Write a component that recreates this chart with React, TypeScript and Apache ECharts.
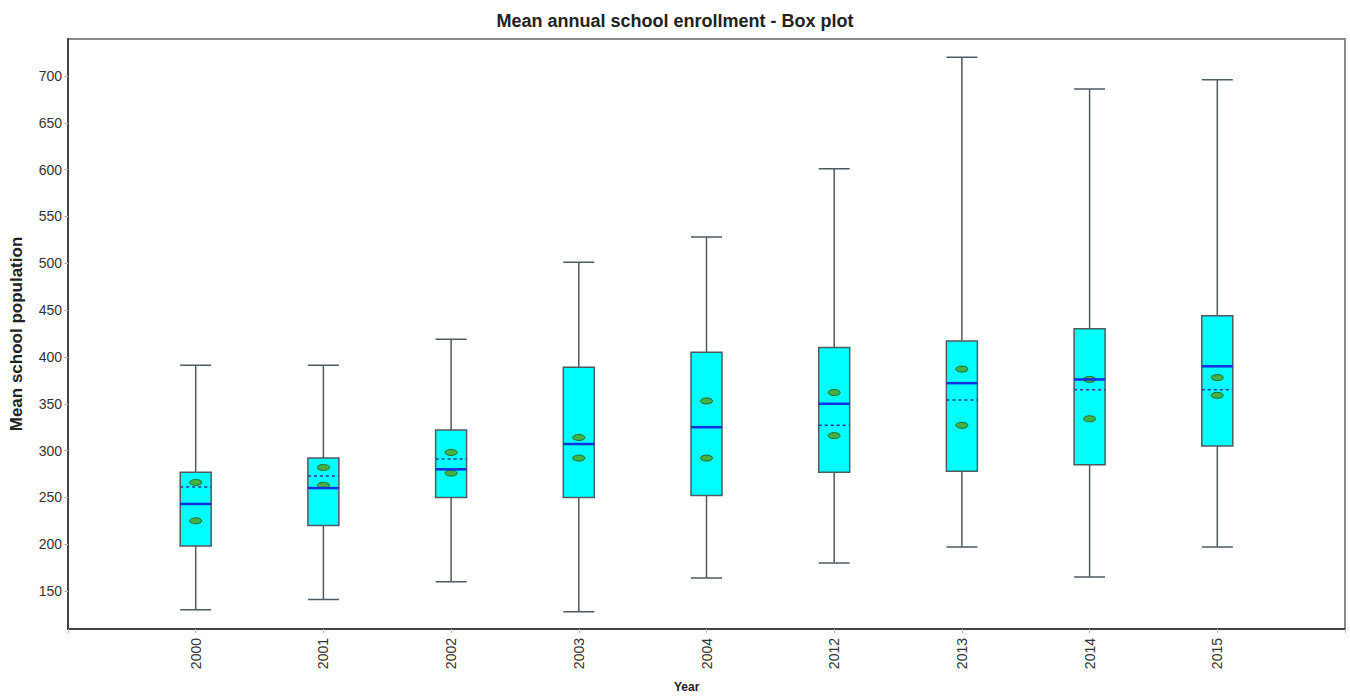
import React, { useEffect, useRef } from "react";
import * as echarts from "echarts";

const years = ["2000", "2001", "2002", "2003", "2004", "2012", "2013", "2014", "2015"];
// [min, Q1, median, Q3, max]
const boxes: number[][] = [
  [130, 198, 243, 277, 391],
  [141, 220, 260, 292, 391],
  [160, 250, 280, 322, 419],
  [128, 250, 307, 389, 501],
  [164, 252, 325, 405, 528],
  [180, 277, 350, 410, 601],
  [197, 278, 372, 417, 720],
  [165, 285, 376, 430, 686],
  [197, 305, 390, 444, 696],
];
const means = [261, 273, 291, 307, 325, 327, 354, 365, 365];
const upperMarks = [266, 282, 298, 314, 353, 362, 387, 376, 378];
const lowerMarks = [225, 263, 276, 292, 292, 316, 327, 334, 359];
const yTicks = [150, 200, 250, 300, 350, 400, 450, 500, 550, 600, 650, 700];

const FONT = "Liberation Sans, Arial, sans-serif";
const BOX_W = 31;

export default function App() {
  const ref = useRef<HTMLDivElement>(null);
  useEffect(() => {
    if (!ref.current) return;
    const chart = echarts.init(ref.current, null, { renderer: "svg" });
    const axisData = ["", ...years, ""];
    const boxData = boxes.map((b, i) => [i + 1, ...b]);
    const extraData = years.map((_, i) => [i + 1, boxes[i][2], means[i], upperMarks[i], lowerMarks[i]]);
    chart.setOption({
      animation: false,
      backgroundColor: "#ffffff",
      title: {
        text: "Mean annual school enrollment - Box plot",
        left: "center",
        top: 7,
        textStyle: { fontFamily: FONT, fontSize: 18, fontWeight: "bold", color: "#222" },
      },
      grid: {
        left: 68,
        right: 5,
        top: 39,
        bottom: 67,
        outerBoundsMode: "none",
        containLabel: false,
        show: true,
        borderColor: "#8a8a8a",
        borderWidth: 2,
        backgroundColor: "#ffffff",
      },
      xAxis: {
        type: "category",
        data: axisData,
        boundaryGap: false,
        axisLine: { lineStyle: { color: "#444", width: 2 } },
        axisTick: { show: true, length: 4, lineStyle: { color: "#bbb" }, interval: 0 },
        axisLabel: {
          rotate: 90,
          margin: 9,
          fontFamily: FONT,
          fontSize: 14,
          color: "#333",
          interval: 0,
        },
        splitLine: { show: false },
      },
      yAxis: {
        type: "value",
        min: 109.5,
        max: 739.5,
        name: "Mean school population",
        nameLocation: "middle",
        nameGap: 43,
        nameTextStyle: { fontFamily: FONT, fontSize: 17, fontWeight: "bold", color: "#222" },
        axisLine: { show: true, lineStyle: { color: "#444", width: 2 } },
        axisTick: { show: true, length: 4, lineStyle: { color: "#bbb" }, customValues: yTicks },
        axisLabel: { fontFamily: FONT, fontSize: 14, color: "#333", margin: 6, customValues: yTicks },
        splitLine: { show: false },
      },
      graphic: [
        {
          type: "text",
          left: 674,
          top: 681,
          style: { text: "Year", font: "bold 12px " + FONT, fill: "#222" },
        },
      ],
      series: [
        {
          type: "boxplot",
          data: boxData,
          encode: { x: 0, y: [1, 2, 3, 4, 5] },
          boxWidth: [BOX_W, BOX_W],
          itemStyle: { color: "#00ffff", borderColor: "#4f5b60", borderWidth: 1.5 },
          emphasis: { disabled: true },
        },
        {
          type: "custom",
          data: extraData,
          encode: { x: 0, y: [1, 2, 3, 4] },
          z: 10,
          renderItem: (params: any, api: any) => {
            const x = api.value(0);
            const pMed = api.coord([x, api.value(1)]);
            const pMean = api.coord([x, api.value(2)]);
            const pU = api.coord([x, api.value(3)]);
            const pL = api.coord([x, api.value(4)]);
            const h = BOX_W / 2;
            const ell = (p: number[]) => ({
              type: "ellipse",
              shape: { cx: p[0], cy: p[1], rx: 6, ry: 3 },
              style: { fill: "#45b045", stroke: "#1d6b2a", lineWidth: 1 },
            });
            return {
              type: "group",
              children: [
                {
                  type: "line",
                  shape: { x1: pMean[0] - h, y1: pMean[1], x2: pMean[0] + h, y2: pMean[1] },
                  style: { stroke: "#1f3f9a", lineWidth: 1.5, lineDash: [3, 3] },
                },
                ell(pU),
                ell(pL),
                {
                  type: "line",
                  shape: { x1: pMed[0] - h, y1: pMed[1], x2: pMed[0] + h, y2: pMed[1] },
                  style: { stroke: "#1530e0", lineWidth: 2.5 },
                },
              ],
            };
          },
        },
      ],
    });
    return () => chart.dispose();
  }, []);
  return <div ref={ref} style={{ position: "fixed", left: 0, top: 0, width: 1350, height: 696 }} />;
}
